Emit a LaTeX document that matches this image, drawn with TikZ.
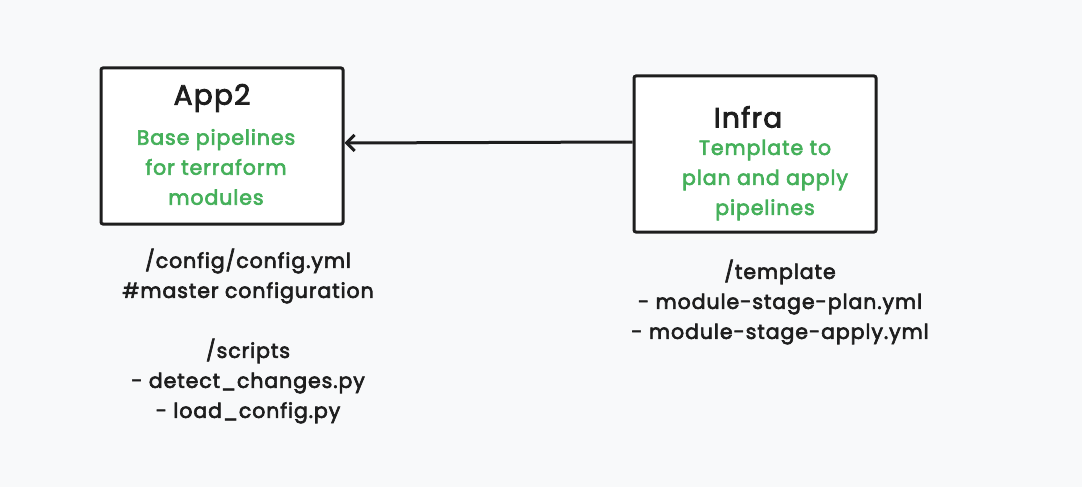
\documentclass[tikz,border=0pt]{standalone}
\usepackage{fontspec}
\setmainfont{Poppins}[LetterSpace=4.5, FakeBold=3]
\usetikzlibrary{arrows.meta}
\definecolor{bgcol}{HTML}{F8F9FA}
\definecolor{inkcol}{HTML}{1E1E1E}
\definecolor{notecol}{HTML}{45B05A}
\begin{document}
\begin{tikzpicture}[x=1pt,y=-1pt]
	\tikzstyle{every node}+=[inner sep=0pt]
	\tikzstyle{repobox}=[draw=inkcol, fill=white, line width=3pt, rounded corners=2pt, minimum width=242pt, minimum height=156pt]
	\tikzstyle{title}=[text=inkcol, font=\fontsize{28}{30}\selectfont]
	\tikzstyle{note}=[text=notecol, align=center, font=\fontsize{20.5}{30}\selectfont]
	\tikzstyle{files}=[text=inkcol, align=center, font=\fontsize{20.5}{30}\selectfont]
	\fill [bgcol] (0,0) rectangle (1082,487);
	\useasboundingbox (0,0) rectangle (1082,487);
	\node [repobox] (app) at (222,146) {};
	\node [title] (apptitle) at (212,98) {App2};
	\node [note] (appnote) at (216,167) {Base pipelines\\for terraform\\modules};
	\node [repobox] (infra) at (755,154) {};
	\node [title] (infratitle) at (748,117) {Infra};
	\node [note] (infranote) at (765,180) {Template to\\plan and apply\\pipelines};
	\draw [inkcol, line width=3pt, -{Straight Barb[length=8pt,width=16pt]}] ([yshift=12pt]infra.west) -- ([yshift=3pt]app.east);
	\node [files] (appfiles) at (248,336) {/config/config.yml\\\#master configuration\\\mbox{}\\/scripts\\- detect\_changes.py\\- load\_config.py};
	\node [files] (infrafiles) at (780,302) {/template\\- module-stage-plan.yml\\- module-stage-apply.yml};
\end{tikzpicture}
\end{document}
